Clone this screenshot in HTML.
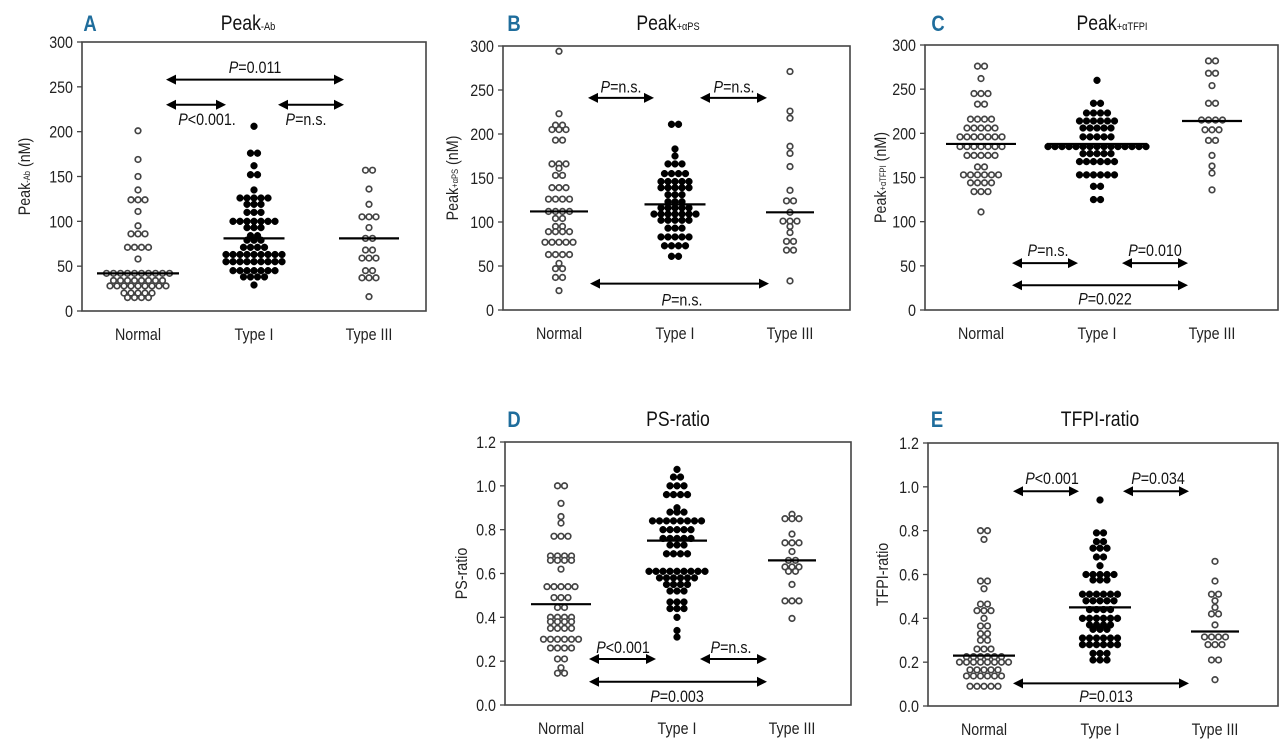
<!DOCTYPE html>
<html><head><meta charset="utf-8"><style>
html,body{margin:0;padding:0;background:#fff;}
svg{display:block;font-family:"Liberation Sans",sans-serif;}
</style></head><body>
<svg id="fig" width="1280" height="748" viewBox="0 0 1280 748" xmlns="http://www.w3.org/2000/svg"></svg>
<script>
// Categories
const categories = ["Normal", "Type I", "Type III"];
// Panel A: Peak -Ab  ([value, count] rows)
const aNormal = [[201,1],[169,1],[150,1],[135,1],[124,3],[111,1],[95,1],[86,3],[71,4],[58,1],[42,10],[34,8],[28,9],[20,5],[15,4]];
const aType1 = [[206,1],[176,2],[162,1],[152,2],[135,1],[126,5],[119,3],[110,3],[100,7],[93,3],[84,2],[79,3],[71,4],[63,9],[55,9],[45,7],[38,4],[29,1]];
const aType3 = [[157,2],[136,1],[119,1],[105,3],[93,1],[81,2],[68,2],[59,3],[45,2],[37,3],[16,1]];
const aMedians = [42, 81, 81];
// Panel B: Peak +aPS
const bNormal = [[294,1],[223,1],[210,2],[205,3],[193,2],[166,3],[161,1],[153,2],[139,3],[126,4],[112,4],[104,2],[95,2],[89,4],[77,5],[63,4],[53,1],[47,2],[37,2],[22,1]];
const bType1 = [[211,2],[183,1],[175,1],[166,3],[155,4],[146,5],[139,5],[131,3],[123,3],[116,5],[109,7],[102,5],[93,3],[83,5],[73,4],[61,2]];
const bType3 = [[271,1],[226,1],[218,1],[186,1],[178,1],[163,1],[136,1],[124,2],[111,1],[101,3],[95,1],[88,1],[78,2],[68,2],[33,1]];
const bMedians = [112, 120, 111];
// Panel C: Peak +aTFPI
const cNormal = [[276,2],[262,1],[245,3],[233,2],[216,4],[206,5],[196,7],[185,7],[175,5],[162,2],[153,6],[144,4],[134,3],[111,1]];
const cType1 = [[260,1],[234,2],[223,4],[214,6],[206,5],[196,5],[185,15],[177,5],[168,6],[153,6],[140,2],[125,2]];
const cType3 = [[282,2],[268,2],[254,1],[234,2],[215,4],[204,3],[192,2],[175,1],[163,1],[155,1],[136,1]];
const cMedians = [188, 188, 214];
// Panel D: PS-ratio
const dNormal = [[1.00,2],[0.92,1],[0.86,1],[0.83,1],[0.77,3],[0.68,4],[0.66,4],[0.62,1],[0.54,5],[0.49,3],[0.445,2],[0.40,4],[0.38,4],[0.35,4],[0.30,6],[0.26,4],[0.21,2],[0.17,1],[0.145,2]];
const dType1 = [[1.075,1],[1.04,2],[1.00,3],[0.96,4],[0.90,1],[0.88,3],[0.84,8],[0.80,5],[0.76,5],[0.73,3],[0.69,4],[0.61,9],[0.58,6],[0.55,4],[0.52,3],[0.47,3],[0.44,3],[0.40,1],[0.34,1],[0.31,1]];
const dType3 = [[0.87,1],[0.85,3],[0.78,1],[0.74,3],[0.70,1],[0.66,2],[0.63,3],[0.61,2],[0.55,1],[0.475,3],[0.395,1]];
const dMedians = [0.46, 0.75, 0.66];
// Panel E: TFPI-ratio
const eNormal = [[0.80,2],[0.76,1],[0.57,2],[0.535,1],[0.465,2],[0.435,3],[0.40,1],[0.365,2],[0.33,2],[0.30,2],[0.26,3],[0.225,6],[0.20,8],[0.165,5],[0.137,6],[0.09,5]];
const eType1 = [[0.94,1],[0.79,2],[0.75,2],[0.72,3],[0.68,2],[0.64,1],[0.60,5],[0.575,3],[0.51,6],[0.48,5],[0.44,4],[0.40,6],[0.37,4],[0.35,3],[0.31,6],[0.28,6],[0.24,3],[0.21,3]];
const eType3 = [[0.66,1],[0.57,1],[0.51,2],[0.48,1],[0.45,1],[0.42,2],[0.37,1],[0.315,4],[0.28,3],[0.21,2],[0.12,1]];
const eMedians = [0.23, 0.45, 0.34];
// Tick labels
const peakTicks = ["0","50","100","150","200","250","300"];
const ratioTicks = ["0.0","0.2","0.4","0.6","0.8","1.0","1.2"];
// Annotations
const aArrows = [[258,166,344],[230,166,226],[230,278,344]];
const aLabels = [["=0.011","P",272,255],["<0.001.","P",214,207],["=n.s.","P",214,306]];
const bArrows = [[241,588,654],[241,700,767],[30,590,769]];
const bLabels = [["=n.s.","P",254,621],["=n.s.","P",254,734],["=n.s.","P",12,682]];
const cArrows = [[53,1012,1078],[53,1122,1188],[28,1012,1188]];
const cLabels = [["=n.s.","P",68,1048],["=0.010","P",68,1155],["=0.022","P",13,1105]];
const dArrows = [[0.21,589,656],[0.21,700,767],[0.106,589,767]];
const dLabels = [["<0.001","P",0.265,623],["=n.s.","P",0.265,731],["=0.003","P",0.04,677]];
const eArrows = [[0.98,1013,1079],[0.98,1123,1189],[0.103,1013,1189]];
const eLabels = [["<0.001","P",1.04,1052],["=0.034","P",1.04,1158],["=0.013","P",0.045,1106]];

const NS = "http://www.w3.org/2000/svg";
const svg = document.getElementById("fig");
const condense = [];
function mk(tag, attrs, parent, text) {
  const e = document.createElementNS(NS, tag);
  for (const k in attrs) e.setAttribute(k, attrs[k]);
  if (text !== undefined) e.textContent = text;
  (parent || svg).appendChild(e);
  return e;
}

const panels = [
  {id:"a", letter:"A", title:"Peak", sub:"-Ab", ytitle:"Peak", ysub:"-Ab", yunit:" (nM)", x0:82, x1:426, y0:42, y1:311, max:300, ticks:peakTicks, groups:[aNormal,aType1,aType3], med:aMedians, medW:[82,61,60], arrows:aArrows, labels:aLabels, letterX:90, titleX:248, titleY:30, ytx:24},
  {id:"b", letter:"B", title:"Peak", sub:"+\u03B1PS", ytitle:"Peak", ysub:"+\u03B1PS", yunit:" (nM)", x0:503, x1:850, y0:46, y1:310, max:300, ticks:peakTicks, groups:[bNormal,bType1,bType3], med:bMedians, medW:[58,61,48], arrows:bArrows, labels:bLabels, letterX:514, titleX:668, titleY:30, ytx:452},
  {id:"c", letter:"C", title:"Peak", sub:"+\u03B1TFPI", ytitle:"Peak", ysub:"+\u03B1TFPI", yunit:" (nM)", x0:925, x1:1278, y0:45, y1:310, max:300, ticks:peakTicks, groups:[cNormal,cType1,cType3], med:cMedians, medW:[70,100,60], arrows:cArrows, labels:cLabels, letterX:938, titleX:1112, titleY:30, ytx:880},
  {id:"d", letter:"D", title:"PS-ratio", sub:"", ytitle:"PS-ratio", ysub:"", yunit:"", x0:505, x1:851, y0:442, y1:705, max:1.2, ticks:ratioTicks, groups:[dNormal,dType1,dType3], med:dMedians, medW:[60,60,48], arrows:dArrows, labels:dLabels, letterX:514, titleX:678, titleY:426, ytx:461},
  {id:"e", letter:"E", title:"TFPI-ratio", sub:"", ytitle:"TFPI-ratio", ysub:"", yunit:"", x0:928, x1:1278, y0:443, y1:706, max:1.2, ticks:ratioTicks, groups:[eNormal,eType1,eType3], med:eMedians, medW:[62,62,48], arrows:eArrows, labels:eLabels, letterX:937, titleX:1100, titleY:426, ytx:882}
];
const catOffsets = [56, 172, 287];

panels.forEach(p => {
  const g = mk("g", {});
  
  
  const yScale = v => p.y1 - (v / p.max) * (p.y1 - p.y0);
  const xCat = i => p.x0 + catOffsets[i];

  const L = mk("text", {x:p.letterX, y:p.titleY+1, "font-size":22, "font-weight":"bold", fill:"#1f6d9c", "text-anchor":"middle"}, g, p.letter);
  
  
  condense.push(L);
  const T = mk("text", {x:p.titleX, y:p.titleY, "font-size":21, fill:"#111", "text-anchor":"middle"}, g);
  
  
  mk("tspan", {}, T, p.title);
  if (p.sub) mk("tspan", {"font-size":11}, T, p.sub);
  condense.push(T);

  const box = mk("rect", {x:p.x0, y:p.y0, width:p.x1-p.x0, height:p.y1-p.y0, fill:"none", stroke:"#444", "stroke-width":1.6}, g);
  
  

  p.ticks.forEach((t, i) => {
    const v = p.max * i / (p.ticks.length - 1);
    const y = yScale(v);
    mk("line", {x1:p.x0-5, x2:p.x0, y1:y, y2:y, stroke:"#444", "stroke-width":1.3}, g);
    const tl = mk("text", {x:p.x0-9, y:y+6, "font-size":17, fill:"#222", "text-anchor":"end"}, g, t);
    
    
    condense.push(tl);
  });
  const cy = (p.y0 + p.y1) / 2;
  const yt = mk("text", {x:p.ytx, y:cy, "font-size":17, fill:"#222", "text-anchor":"middle", transform:`rotate(-90 ${p.ytx} ${cy})`, dy:6}, g);
  
  
  mk("tspan", {}, yt, p.ytitle);
  if (p.ysub) mk("tspan", {"font-size":9}, yt, p.ysub);
  if (p.yunit) mk("tspan", {}, yt, p.yunit);
  condense.push(yt);

  categories.forEach((c, i) => {
    const cl = mk("text", {x:xCat(i), y:p.y1+29, "font-size":17, fill:"#222", "text-anchor":"middle"}, g, c);
    
    
    condense.push(cl);
  });

  p.groups.forEach((rows, gi) => {
    const filled = gi === 1;
    rows.forEach(r => {
      const [v, n] = r;
      for (let k = 0; k < n; k++) {
        const x = xCat(gi) + (k - (n - 1) / 2) * 7;
        const d = mk("circle", {cx:x, cy:yScale(v), r: filled ? 3.4 : 2.8, fill: filled ? "#000" : "#fff", stroke: filled ? "#000" : "#444", "stroke-width": filled ? 0.5 : 1.7}, g);
        
        
      }
    });
    const my = yScale(p.med[gi]);
    const ml = mk("line", {x1:xCat(gi)-p.medW[gi]/2, x2:xCat(gi)+p.medW[gi]/2, y1:my, y2:my, stroke:"#000", "stroke-width":2.2}, g);
    
    
  });

  p.arrows.forEach(a => {
    const y = yScale(a[0]);
    const ar = mk("g", {}, g);
    
    
    mk("line", {x1:a[1]+6, x2:a[2]-6, y1:y, y2:y, stroke:"#000", "stroke-width":2}, ar);
    mk("polygon", {points:`${a[1]},${y} ${a[1]+10},${y-5} ${a[1]+10},${y+5}`, fill:"#000"}, ar);
    mk("polygon", {points:`${a[2]},${y} ${a[2]-10},${y-5} ${a[2]-10},${y+5}`, fill:"#000"}, ar);
  });
  p.labels.forEach(l => {
    const t = mk("text", {x:l[3], y:yScale(l[2])+6, "font-size":17, fill:"#111", "text-anchor":"middle"}, g);
    
    
    mk("tspan", {"font-style":"italic"}, t, l[1]);
    mk("tspan", {}, t, l[0]);
    condense.push(t);
  });
});
// condense text horizontally to mimic narrow font
condense.forEach(t => {
  const w = t.getComputedTextLength();
  if (w > 0) {
    t.setAttribute("textLength", (w * 0.84).toFixed(1));
    t.setAttribute("lengthAdjust", "spacingAndGlyphs");
  }
});
</script>
</body></html>
